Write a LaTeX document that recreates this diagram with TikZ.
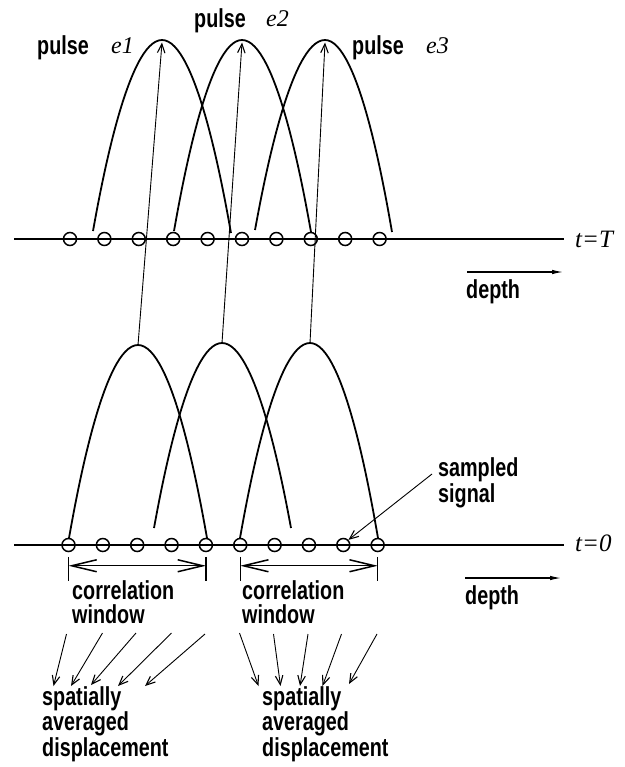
\documentclass[tikz,border=0pt]{standalone}
\usepackage{fontspec}
\setmainfont{Liberation Serif}
\setsansfont{Liberation Sans}
\newfontfamily\labelfont{Liberation Sans Bold}[FakeStretch=0.76]
\usetikzlibrary{arrows.meta}
\begin{document}
\begin{tikzpicture}[x=1pt,y=-1pt,
  axis/.style={line width=2pt},
  pulse/.style={line width=1.8pt},
  sample/.style={circle, draw, line width=1.5pt, minimum size=13pt, inner sep=0pt},
  thinarrow/.style={line width=0.9pt, -{Straight Barb[length=9pt,width=7.5pt,line width=1.1pt]}},
  tick/.style={line width=1.2pt},
  window/.style={line width=1.2pt, {Straight Barb[length=25pt,width=12pt,line width=1.5pt]}-{Straight Barb[length=25pt,width=12pt,line width=1.5pt]}},
  dirarrow/.style={line width=1.1pt, -{Latex[length=11pt,width=4.5pt]}},
  lab/.style={font=\labelfont\fontsize{26}{23.5}\selectfont, inner sep=0pt, anchor=base west, align=left},
  var/.style={font=\itshape\fontsize{24}{26}\selectfont, inner sep=0pt, anchor=base west}]
\useasboundingbox (0,0) rectangle (624,767);

% time axes
\draw[axis] (14,239) -- (564,239);
\draw[axis] (14,545) -- (564,545);
\node[var, font=\itshape\fontsize{25}{28}\selectfont] (tT) at (575,247) {t=T};
\node[var, font=\itshape\fontsize{25}{28}\selectfont] (t0) at (575,551) {t=0};

% sample points
\foreach \i in {0,...,9} {
  \node[sample] (a\i) at ({70+34.4*\i},239) {};
  \node[sample] (b\i) at ({68.5+34.35*\i},545) {};
}

% pulse peaks
\coordinate (p1) at (138,345);
\coordinate (p2) at (222,343);
\coordinate (p3) at (310,343);
\coordinate (q1) at (162,40);
\coordinate (q2) at (242,40);
\coordinate (q3) at (325,40);

% pulses at t=T
\draw[pulse] (93,231) parabola bend (q1) (231,233);
\draw[pulse] (174,231) parabola bend (q2) (311,232);
\draw[pulse] (255,230) parabola bend (q3) (392,232);

% pulses at t=0
\draw[pulse] (69,538) parabola bend (p1) (207,538);
\draw[pulse] (154,528) parabola bend (p2) (291,528);
\draw[pulse] (240,538) parabola bend (p3) (378,538);

% pulse displacements
\draw[thinarrow] (p1) -- ([yshift=-2.5pt]q1);
\draw[thinarrow] (p2) -- ([yshift=-2.5pt]q2);
\draw[thinarrow] (p3) -- ([yshift=-2.5pt]q3);

% pulse labels
\node[lab] (pl1) at (37,55) {pulse};
\node[var] (e1) at (111,54) {e1};
\node[lab] (pl2) at (194,28) {pulse};
\node[var] (e2) at (266,27) {e2};
\node[lab] (pl3) at (352,55) {pulse};
\node[var] (e3) at (426,54) {e3};

% depth direction
\coordinate (d1s) at (467,272);
\coordinate (d1e) at (563,272);
\draw[dirarrow] (d1s) -- (d1e);
\node[lab] (dep1) at (466,298) {depth};
\coordinate (d2s) at (465,578);
\coordinate (d2e) at (561,578);
\draw[dirarrow] (d2s) -- (d2e);
\node[lab] (dep2) at (465,604) {depth};

% sampled signal
\node[lab] (samp) at (438,502) {sampled\\signal};
\coordinate (sstart) at (432,474);
\draw[thinarrow] (sstart) -- (b8.north east);

% correlation windows
\foreach \s/\e in {0/4,5/9} {
  \draw[tick] ([yshift=-4.5pt]b\s.south) -- ++(0,24);
  \draw[tick] ([yshift=-4.5pt]b\e.south) -- ++(0,24);
  \draw[window] ([yshift=-13.5pt]b\s.south) -- ([yshift=-13.5pt]b\e.south);
}
\node[lab] (cw1) at (72,623) {correlation\\window};
\node[lab] (cw2) at (242,623) {correlation\\window};

% averaging arrows
\coordinate (l1) at (66.5,634);  \coordinate (m1) at (53.5,686);
\coordinate (l2) at (102.5,633); \coordinate (m2) at (71,686);
\coordinate (l3) at (136,633);   \coordinate (m3) at (91,685);
\coordinate (l4) at (171.5,633); \coordinate (m4) at (118,686);
\coordinate (l5) at (205,634);   \coordinate (m5) at (145,686);
\coordinate (r1) at (239.5,633); \coordinate (n1) at (258.5,686);
\coordinate (r2) at (273.5,634); \coordinate (n2) at (280.5,686);
\coordinate (r3) at (308,634);   \coordinate (n3) at (300,686);
\coordinate (r4) at (341.5,634); \coordinate (n4) at (322.5,686);
\coordinate (r5) at (377,634);   \coordinate (n5) at (349,684);
\foreach \k in {1,...,5} {
  \draw[thinarrow] (l\k) -- (m\k);
  \draw[thinarrow] (r\k) -- (n\k);
}
\node[lab] (sad1) at (42,756) {spatially\\averaged\\displacement};
\node[lab] (sad2) at (262,756) {spatially\\averaged\\displacement};
\end{tikzpicture}
\end{document}
